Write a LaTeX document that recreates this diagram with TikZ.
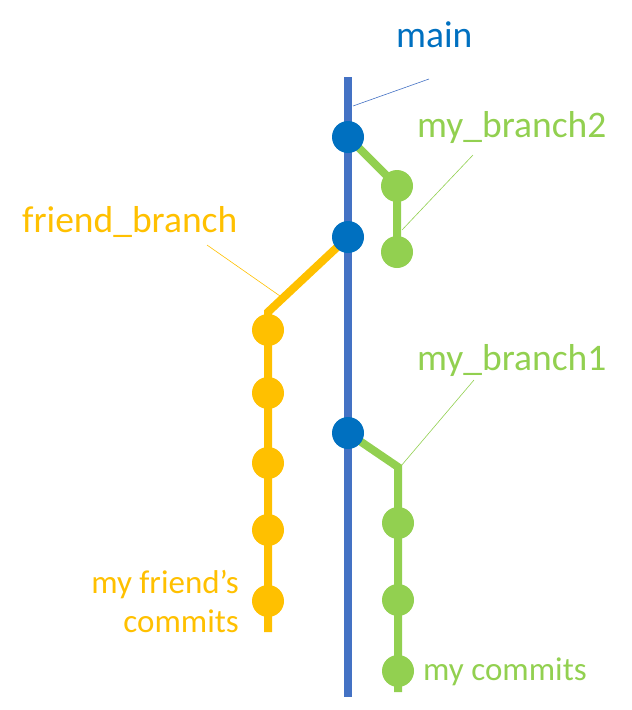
\documentclass[tikz,border=0pt]{standalone}
\usepackage{fontspec}
\setmainfont{Carlito}
\usetikzlibrary{calc}
\definecolor{mainline}{HTML}{4472C4}
\definecolor{maindot}{HTML}{0070C0}
\definecolor{mygreen}{HTML}{92D050}
\definecolor{friendyellow}{HTML}{FFC000}
\tikzset{
  commit/.style={circle, inner sep=0pt, minimum size=32pt},
  branchline/.style={line width=8pt},
  leader/.style={line width=0.6pt},
  lbl/.style={font=\fontsize{37.5}{40}\selectfont, inner sep=0pt},
  smalllbl/.style={font=\fontsize{33}{36}\selectfont, inner sep=0pt},
}

\begin{document}
\begin{tikzpicture}[x=1pt, y=-1pt]
			%%%%% START %%%%%
			\useasboundingbox (0, 0) rectangle (632, 710);
			
			% commit positions
			\coordinate (mtop) at (348, 77);
			\coordinate (mbot) at (348, 697);
			\coordinate (m1) at (348, 137);
			\coordinate (m2) at (348, 237);
			\coordinate (m3) at (348, 433);
			
			\coordinate (b2a) at (397, 186);
			\coordinate (b2b) at (397, 252);
			
			\coordinate (fbend) at (268, 312);
			\coordinate (f1) at (268, 330);
			\coordinate (f2) at (268, 393);
			\coordinate (f3) at (268, 463);
			\coordinate (f4) at (268, 530);
			\coordinate (f5) at (268, 601);
			\coordinate (fend) at (268, 632);
			
			\coordinate (b1bend) at (398, 467);
			\coordinate (b1a) at (398, 523);
			\coordinate (b1b) at (398, 600);
			\coordinate (b1c) at (398, 671);
			\coordinate (b1end) at (398, 692);
			
			% branch lines
			\draw[branchline, mainline] (mtop) -- (mbot);
			\draw[branchline, mygreen] (m1) -- (b2a) -- (b2b);
			\draw[branchline, friendyellow] (m2) -- (fbend) -- (fend);
			\draw[branchline, mygreen] (m3) -- (b1bend) -- (b1end);
			
			% commits
			\foreach \c in {m1, m2, m3}
				\node[commit, fill=maindot] (n\c) at (\c) {};
			\foreach \c in {b2a, b2b, b1a, b1b, b1c}
				\node[commit, fill=mygreen] (n\c) at (\c) {};
			\foreach \c in {f1, f2, f3, f4, f5}
				\node[commit, fill=friendyellow] (n\c) at (\c) {};
			
			% labels
			\node[lbl, anchor=base west, text=maindot] (lmain) at (396, 47) {main};
			\node[lbl, anchor=base west, text=mygreen] (lb2) at (417, 137) {my\_branch2};
			\node[lbl, anchor=base west, text=friendyellow] (lfriend) at (22, 232) {friend\_branch};
			\node[lbl, anchor=base west, text=mygreen] (lb1) at (417, 370) {my\_branch1};
			\node[smalllbl, anchor=base west, text=mygreen] (lmine) at (423, 680) {my commits};
			\node[smalllbl, anchor=base east, text=friendyellow] (lfc) at (239, 593) {my friend’s};
			\node[smalllbl, anchor=base east, text=friendyellow] (lfc2) at (239, 632) {commits};
			
			% leaders
			\coordinate (pmain) at (353, 106);
			\coordinate (pb2) at (402, 230);
			\coordinate (pfriend) at (280, 296);
			\coordinate (pb1) at (401, 466);
			\draw[leader, mainline] (429, 79) -- (pmain);
			\draw[leader, mygreen] (473, 155) -- (pb2);
			\draw[leader, friendyellow] (207, 245) -- (pfriend);
			\draw[leader, mygreen] (474, 380) -- (pb1);
			
			%%%%% END %%%%%
		\end{tikzpicture}
\end{document}
